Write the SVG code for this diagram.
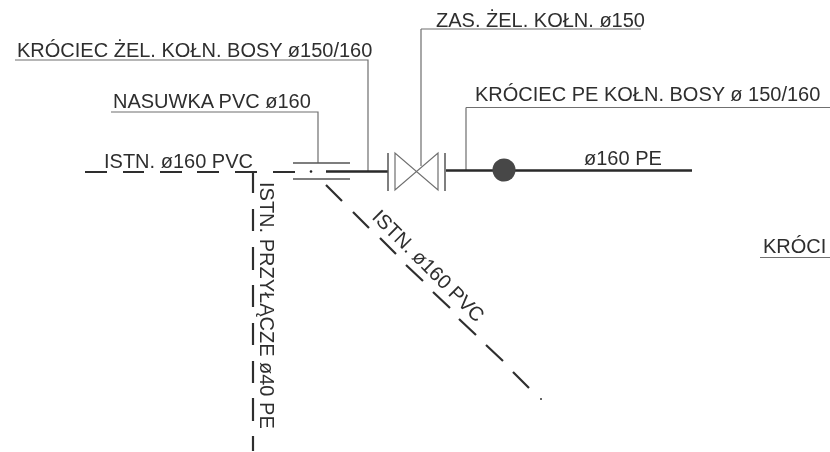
<svg xmlns="http://www.w3.org/2000/svg" width="830" height="452" viewBox="0 0 830 452">
  <style>
    text { font-family: "Liberation Sans", Arial, sans-serif; font-size: 20px; fill: #2e2e2e; }
    .lead { fill: none; stroke: #6f6f6f; stroke-width: 1.2; }
    .pipe { fill: none; stroke: #2a2a2a; stroke-width: 2.6; }
    .thin { fill: none; stroke: #555; stroke-width: 1.5; }
    .dash { fill: none; stroke: #2f2f2f; stroke-width: 2.2; }
  </style>
  <defs>
    <filter id="scan" x="0" y="0" width="100%" height="100%" filterUnits="userSpaceOnUse" primitiveUnits="userSpaceOnUse">
      <feGaussianBlur stdDeviation="0.4"/>
    </filter>
  </defs>
  <rect width="830" height="452" fill="#ffffff"/>
  <g filter="url(#scan)">
    <g id="connectors">
      <path class="lead" d="M15 60H368V171"/>
      <path class="lead" d="M111 112H318V163"/>
      <path class="lead" d="M421 29H641M421 29V166"/>
      <path class="lead" d="M466 107.500H830M466 107.500V170"/>
      <path class="lead" d="M760 257.500H830"/>
      <path class="pipe" d="M326 171.500H388M446 170.500H692"/>
      <path class="dash" d="M85 172H107M123 172H144M160 172H182M197 172H219M235 172H257M273 172H295"/>
      <path class="dash" d="M253 172V193M253 209V231M253 247V270M253 285V307M253 323V345M253 361V383M253 398V421M253 436V451"/>
      <path class="dash" d="M326 185L342 201M353 212L369 228M380 238L396 254M406 265L423 281M433 292L450 308M459 319L476 335M486 345L503 361M513 372L529 388"/>
      <circle cx="541" cy="399" r="1" fill="#333"/>
    </g>
    <g id="nasuwka">
      <path class="thin" d="M293 163H350M293 179H350"/>
      <circle cx="311" cy="171.500" r="1.300" fill="#222"/>
    </g>
    <g id="krociec-zel">
      <path class="thin" d="M388 153V191"/>
    </g>
    <g id="zasuwa">
      <path class="lead" d="M395 153V190L438 153V190Z"/>
    </g>
    <g id="krociec-pe">
      <path class="thin" d="M445 153V191"/>
    </g>
    <g id="punkt">
      <circle cx="504" cy="170" r="11.500" fill="#474747"/>
    </g>
    <g id="labels">
      <text x="17" y="57">KRÓCIEC ŻEL. KOŁN. BOSY ø150/160</text>
      <text x="113" y="108">NASUWKA PVC ø160</text>
      <text x="436" y="27">ZAS. ŻEL. KOŁN. ø150</text>
      <text x="475" y="101">KRÓCIEC PE KOŁN. BOSY ø 150/160</text>
      <text x="584" y="165">ø160 PE</text>
      <text x="763" y="253">KRÓCI</text>
      <text x="104" y="168">ISTN. ø160 PVC</text>
      <text transform="translate(260 182) rotate(90)">ISTN. PRZYŁĄCZE ø40 PE</text>
      <text transform="translate(371 218) rotate(45)">ISTN. ø160 PVC</text>
    </g>
  </g>
</svg>
